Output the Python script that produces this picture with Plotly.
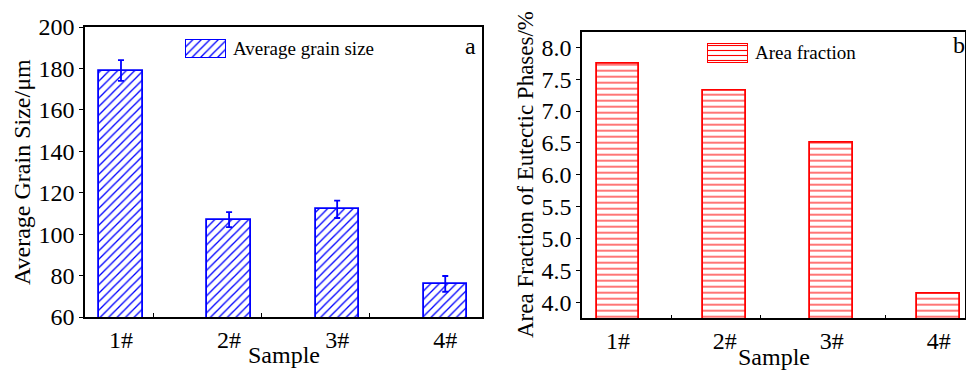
import plotly.graph_objects as go

# ---- data ----
samples = ["1#", "2#", "3#", "4#"]
grain_size = [179, 107, 112, 76]          # µm
grain_err = [5.0, 3.6, 4.2, 3.8]
area_fraction = [7.75, 7.32, 6.50, 4.13]  # %

# ---- style ----
FONT = "Liberation Serif, Times New Roman, serif"
BLUE = "#0000ff"
RED = "#ff0000"
W, H = 966, 370
xpos = list(range(len(samples)))

def px_x(p):
    return p / W

def px_y(p):
    return 1 - p / H

fig = go.Figure()

# Panel a: average grain size
fig.add_trace(go.Bar(
    x=xpos, y=grain_size, width=0.4, xaxis="x", yaxis="y",
    marker=dict(color="white", line=dict(color=BLUE, width=1.8),
                pattern=dict(shape="/", fgcolor=BLUE, bgcolor="white", size=6, solidity=0.22)),
    error_y=dict(type="data", array=grain_err, color=BLUE, thickness=1.8, width=3),
    showlegend=False,
))

# Panel b: area fraction of eutectic phases
fig.add_trace(go.Bar(
    x=xpos, y=area_fraction, width=0.4, xaxis="x2", yaxis="y2",
    marker=dict(color="white", line=dict(color=RED, width=1.8),
                pattern=dict(shape="-", fgcolor=RED, bgcolor="white", size=6, solidity=0.18)),
    showlegend=False,
))

# Legend swatches (drawn as glyphs in small helper axes)
fig.add_trace(go.Bar(
    x=[0], y=[1], width=1, xaxis="x3", yaxis="y3", showlegend=False, hoverinfo="skip",
    marker=dict(color="white", line=dict(color=BLUE, width=2),
                pattern=dict(shape="/", fgcolor=BLUE, bgcolor="white", size=6, solidity=0.22)),
))
fig.add_trace(go.Bar(
    x=[0], y=[1], width=1, xaxis="x4", yaxis="y4", showlegend=False, hoverinfo="skip",
    marker=dict(color="white", line=dict(color=RED, width=2),
                pattern=dict(shape="-", fgcolor=RED, bgcolor="white", size=5, solidity=0.22)),
))

tickfont = dict(family=FONT, size=24, color="black")
axis_common = dict(showline=True, linecolor="black", linewidth=1.6, mirror=True,
                   showgrid=False, zeroline=False, tickfont=tickfont, automargin=False)

x1dom = [px_x(85), px_x(482)]
y1dom = [px_y(317), px_y(27)]
x2dom = [px_x(582), px_x(965)]
y2dom = [px_y(318.3), px_y(31.7)]

hidden = dict(visible=False, automargin=False, fixedrange=True)

fig.update_layout(
    template="none",
    width=W, height=H, autosize=False,
    margin=dict(l=0, r=0, t=0, b=0, pad=0),
    paper_bgcolor="white", plot_bgcolor="white",
    font=dict(family=FONT, color="black"),
    showlegend=False,
    xaxis=dict(domain=x1dom, anchor="y", range=[-0.333, 3.34],
               tickmode="array", tickvals=xpos, ticktext=samples, ticks="",
               minor=dict(ticks="inside", ticklen=4, tickcolor="black", tickvals=[0.3, 1.3, 2.3]),
               **axis_common),
    yaxis=dict(domain=y1dom, anchor="x", range=[60, 200], dtick=20,
               ticks="outside", ticklen=4, tickcolor="black", tickwidth=1.2,
               **axis_common),
    xaxis2=dict(domain=x2dom, anchor="y2", range=[-0.336, 3.246],
                tickmode="array", tickvals=xpos, ticktext=samples, ticks="",
                minor=dict(ticks="inside", ticklen=4, tickcolor="black", tickvals=[0.5, 1.33, 2.5]),
                **axis_common),
    yaxis2=dict(domain=y2dom, anchor="x2", range=[3.75, 8.245], dtick=0.5, tickformat=".1f",
                ticks="outside", ticklen=4, tickcolor="black", tickwidth=1.2,
                **axis_common),
    xaxis3=dict(domain=[px_x(185), px_x(226)], anchor="y3", range=[-0.5, 0.5], **hidden),
    yaxis3=dict(domain=[px_y(58), px_y(39)], anchor="x3", range=[0, 1], **hidden),
    xaxis4=dict(domain=[px_x(707), px_x(748)], anchor="y4", range=[-0.5, 0.5], **hidden),
    yaxis4=dict(domain=[px_y(63), px_y(43)], anchor="x4", range=[0, 1], **hidden),
    bargap=0,
)

ann = []
# axis titles
ann.append(dict(text="Average Grain Size/μm", xref="paper", yref="paper",
                x=px_x(22), y=(y1dom[0] + y1dom[1]) / 2, textangle=-90,
                showarrow=False, font=dict(family=FONT, size=24, color="black"),
                xanchor="center", yanchor="middle"))
ann.append(dict(text="Sample", xref="paper", yref="paper",
                x=(x1dom[0] + x1dom[1]) / 2, y=px_y(354.5),
                showarrow=False, font=dict(family=FONT, size=24, color="black"),
                xanchor="center", yanchor="middle"))
ann.append(dict(text="Area Fraction of Eutectic Phases/%", xref="paper", yref="paper",
                x=px_x(525), y=(y2dom[0] + y2dom[1]) / 2, textangle=-90,
                showarrow=False, font=dict(family=FONT, size=23, color="black"),
                xanchor="center", yanchor="middle"))
ann.append(dict(text="Sample", xref="paper", yref="paper",
                x=(x2dom[0] + x2dom[1]) / 2, y=px_y(357),
                showarrow=False, font=dict(family=FONT, size=24, color="black"),
                xanchor="center", yanchor="middle"))
# legend texts
legend_font = dict(family=FONT, size=19, color="black")
ann.append(dict(text="Average grain size", xref="paper", yref="paper",
                x=px_x(231), y=px_y(48.5), showarrow=False, font=legend_font,
                xanchor="left", yanchor="middle"))
ann.append(dict(text="Area fraction", xref="paper", yref="paper",
                x=px_x(753), y=px_y(53), showarrow=False, font=legend_font,
                xanchor="left", yanchor="middle"))
# panel labels
ann.append(dict(text="a", xref="paper", yref="paper", x=px_x(478), y=px_y(46),
                showarrow=False, font=dict(family=FONT, size=24, color="black"),
                xanchor="right", yanchor="middle"))
ann.append(dict(text="b", xref="paper", yref="paper", x=px_x(951), y=px_y(45),
                showarrow=False, font=dict(family=FONT, size=24, color="black"),
                xanchor="left", yanchor="middle"))
fig.update_layout(annotations=ann)

fig.write_html("out.html")
